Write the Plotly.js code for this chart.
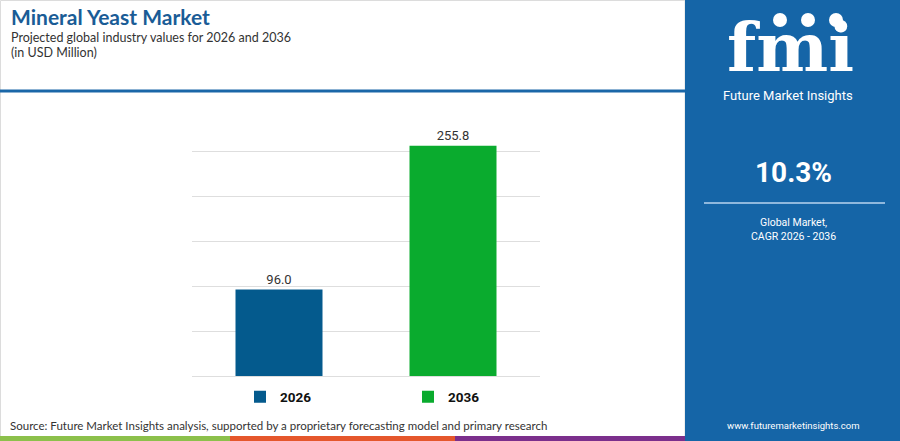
<!DOCTYPE html>
<html>
<head>
<meta charset="utf-8">
<script src="https://cdn.plot.ly/plotly-3.0.1.min.js"></script>
<style>
  html, body { margin: 0; padding: 0; background: #fff; }
  #chart { width: 900px; height: 441px; }
</style>
</head>
<body>
<div id="chart"></div>
<script>
// chart values
var years = ['2026', '2036'];
var values = [96.0, 255.8];
var barColors = ['#045a8d', '#0aab2e'];
var cagr = '10.3%';
var cagrLabel = ['Global Market,', 'CAGR 2026 - 2036'];

// plot area in pixels, used to place the decoration in paper coords
var L = 192, R = 540, T = 106, B = 376;
function px(x) { return (x - L) / (R - L); }
function py(y) { return (B - y) / (B - T); }

var traces = years.map(function (yr, i) {
    return {
        x: [yr],
        y: [values[i]],
        name: yr,
        type: 'bar',
        width: 0.5,
        marker: {color: barColors[i]},
        texttemplate: '%{y:.1f}',
        textposition: 'outside',
        textfont: {family: 'Roboto, Arial, sans-serif', size: 13, color: '#333'},
        cliponaxis: false,
        hoverinfo: 'skip'
    };
});

var annotations = [
    {text: '<b>Mineral Yeast Market</b>', x: px(9), y: py(17), font: {family: 'Lato', size: 21, color: '#1a5c96'}},
    {text: 'Projected global industry values for 2026 and 2036', x: px(9), y: py(37), font: {family: 'Lato', size: 12.5, color: '#333'}},
    {text: '(in USD Million)', x: px(9), y: py(52), font: {family: 'Lato', size: 12.5, color: '#333'}},
    {text: 'Source: Future Market Insights analysis, supported by a proprietary forecasting model and primary research',
        x: px(8), y: py(425), font: {family: 'Lato', size: 11.5, color: '#333'}},
    {text: 'fmi', x: px(790), y: py(47), xanchor: 'center', font: {family: 'DejaVu Serif', size: 68, color: '#fff', weight: 'bold'}},
    {text: 'Future Market Insights', x: px(788), y: py(95), xanchor: 'center', font: {family: 'Roboto', size: 13, color: '#fff'}},
    {text: '<b>' + cagr + '</b>', x: px(793), y: py(172), xanchor: 'center', font: {family: 'Roboto', size: 28, color: '#fff'}},
    {text: cagrLabel[0], x: px(793), y: py(222), xanchor: 'center', font: {family: 'Roboto', size: 10.5, color: '#fff'}},
    {text: cagrLabel[1], x: px(793), y: py(236), xanchor: 'center', font: {family: 'Roboto', size: 10.5, color: '#fff'}},
    {text: 'www.futuremarketinsights.com', x: px(793), y: py(425), xanchor: 'center', font: {family: 'Roboto', size: 9.5, color: '#fff'}}
].map(function (a) {
    return Object.assign({xref: 'paper', yref: 'paper', xanchor: 'left', yanchor: 'middle', showarrow: false}, a);
});

function rect(x0, y0, x1, y1, fill, line) {
    return {type: 'rect', xref: 'paper', yref: 'paper', layer: 'below',
        x0: px(x0), x1: px(x1), y0: py(y0), y1: py(y1),
        fillcolor: fill, line: line || {width: 0}};
}
function seg(x0, y0, x1, y1, color, w) {
    return {type: 'line', xref: 'paper', yref: 'paper',
        x0: px(x0), x1: px(x1), y0: py(y0), y1: py(y1), line: {color: color, width: w}};
}
function dot(cx, cy, r) {
    return {type: 'circle', xref: 'paper', yref: 'paper',
        x0: px(cx - r), x1: px(cx + r), y0: py(cy - r), y1: py(cy + r),
        fillcolor: '#fff', line: {width: 0}};
}

var shapes = [
    rect(0.5, 0.5, 685, 440.5, 'rgba(0,0,0,0)', {color: '#dcdcdc', width: 1}),
    rect(685, 0, 900, 441, '#1565a7'),
    seg(0, 91, 685, 91, '#1a67a8', 3),
    rect(0, 436, 230, 441, '#8cc04b'),
    rect(230, 436, 455, 441, '#e5572c'),
    rect(455, 436, 685, 441, '#7b2f8c'),
    seg(704, 203, 885, 203, '#8fb8dd', 2),
    dot(780, 20, 7), dot(808, 20, 7), dot(836, 20, 7)
];

var layout = {
    width: 900,
    height: 441,
    margin: {l: L, r: 900 - R, t: T, b: 441 - B, pad: 0},
    paper_bgcolor: '#fff',
    plot_bgcolor: '#fff',
    barmode: 'overlay',
    showlegend: true,
    legend: {
        orientation: 'h',
        x: px(240), y: py(397), xanchor: 'left', yanchor: 'middle',
        entrywidth: 123, entrywidthmode: 'pixels',
        bgcolor: 'rgba(0,0,0,0)',
        font: {family: 'Roboto', size: 13.5, color: '#111', weight: 'bold'},
        itemclick: false, itemdoubleclick: false
    },
    xaxis: {
        type: 'category',
        categoryarray: years,
        showticklabels: false,
        showgrid: false,
        zeroline: false,
        fixedrange: true
    },
    yaxis: {
        range: [0, 300],
        tickvals: [0, 50, 100, 150, 200, 250, 300],
        showticklabels: false,
        gridcolor: '#dedede',
        gridwidth: 1,
        zeroline: true,
        zerolinecolor: '#dedede',
        zerolinewidth: 1,
        fixedrange: true
    },
    annotations: annotations,
    shapes: shapes
};

Plotly.newPlot('chart', traces, layout, {displayModeBar: false, staticPlot: true});
</script>
</body>
</html>
